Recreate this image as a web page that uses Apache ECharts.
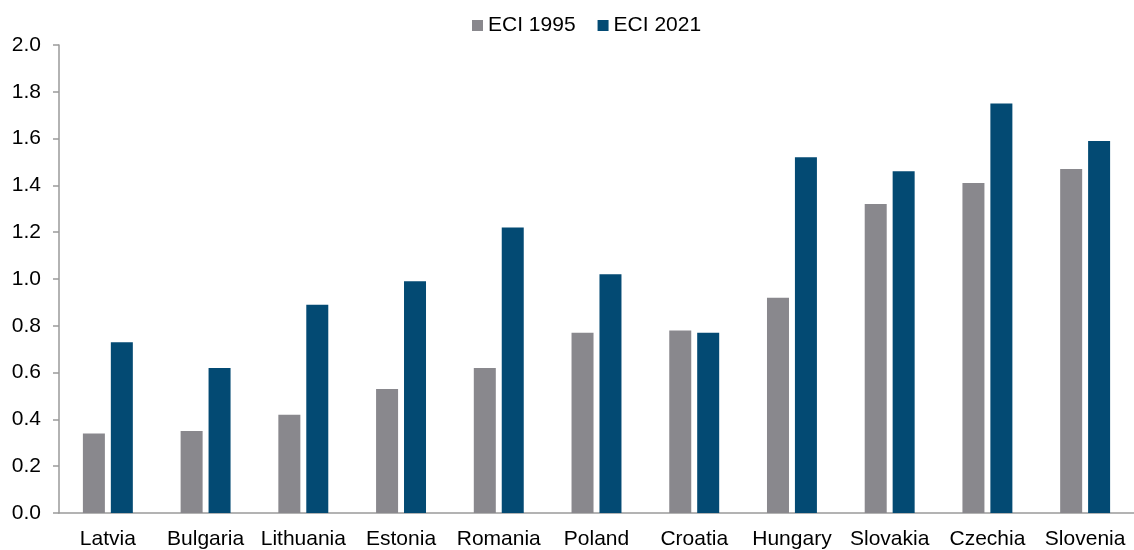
<!DOCTYPE html>
<html>
<head>
<meta charset="utf-8">
<script src="https://cdn.jsdelivr.net/npm/echarts@6/dist/echarts.min.js"></script>
<style>
  html, body { margin: 0; padding: 0; background: #fff; }
  #chart { width: 1134px; height: 550px; }
</style>
</head>
<body>
<div id="chart"></div>
<script>
// Economic Complexity Index by country, 1995 vs 2021
const countries = ['Latvia', 'Bulgaria', 'Lithuania', 'Estonia', 'Romania', 'Poland', 'Croatia', 'Hungary', 'Slovakia', 'Czechia', 'Slovenia'];
const eci1995 = [0.34, 0.35, 0.42, 0.53, 0.62, 0.77, 0.78, 0.92, 1.32, 1.41, 1.47];
const eci2021 = [0.73, 0.62, 0.89, 0.99, 1.22, 1.02, 0.77, 1.52, 1.46, 1.75, 1.59];
const seriesNames = ['ECI 1995', 'ECI 2021'];

const font = 'Arial, "Liberation Sans", sans-serif';
const chart = echarts.init(document.getElementById('chart'));
chart.setOption({
  animation: false,
  legend: {
    top: 10,
    left: 467,
    itemWidth: 11,
    itemHeight: 11,
    itemGap: 22,
    icon: 'rect',
    textStyle: { fontFamily: font, fontSize: 21, color: '#000' },
    data: seriesNames
  },
  grid: { left: 59, right: 0, top: 45, bottom: 37, containLabel: false },
  xAxis: {
    type: 'category',
    data: countries,
    axisLine: { lineStyle: { color: '#9a9a9a', width: 1.5 } },
    axisTick: { show: false },
    axisLabel: { fontFamily: font, fontSize: 21, color: '#000', margin: 16, interval: 0 }
  },
  yAxis: {
    type: 'value',
    min: 0,
    max: 2,
    interval: 0.2,
    axisLine: { show: true, lineStyle: { color: '#9a9a9a', width: 1.5 } },
    axisTick: { show: true, inside: false, length: 6, lineStyle: { color: '#9a9a9a', width: 1.5 } },
    splitLine: { show: false },
    axisLabel: {
      fontFamily: font, fontSize: 21, color: '#000', margin: 18,
      formatter: v => v.toFixed(1)
    }
  },
  series: [
    {
      name: seriesNames[0],
      type: 'bar',
      data: eci1995,
      barWidth: 22,
      barGap: '27%',
      itemStyle: { color: '#89888d' }
    },
    {
      name: seriesNames[1],
      type: 'bar',
      data: eci2021,
      barWidth: 22,
      itemStyle: { color: '#034a73' }
    }
  ]
});
</script>
</body>
</html>
